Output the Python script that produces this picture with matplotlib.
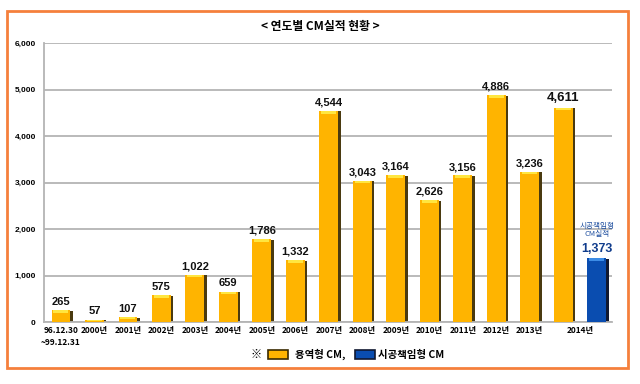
import matplotlib
matplotlib.use("Agg")
import matplotlib.pyplot as plt
from matplotlib.patches import Rectangle
from matplotlib import font_manager
import numpy as np

plt.rcParams['font.family'] = ['Noto Sans CJK KR', 'DejaVu Sans']

names = {f.name for f in font_manager.fontManager.ttflist}
num_font = ['Liberation Sans Narrow'] if 'Liberation Sans Narrow' in names else ['Liberation Sans']

# data
categories = ['96.12.30\n~99.12.31', '2000년', '2001년', '2002년', '2003년', '2004년',
              '2005년', '2006년', '2007년', '2008년', '2009년', '2010년', '2011년',
              '2012년', '2013년', '2014년']
service_cm = [265, 57, 107, 575, 1022, 659, 1786, 1332, 4544, 3043, 3164, 2626,
              3156, 4886, 3236, 4611]
construction_cm = [1373]  # 2014 only

yellow = '#FFB400'
blue = '#0A4DB0'
shadow = '#4a3a10'

fig = plt.figure(figsize=(6.4, 3.84), dpi=100)
ax = fig.add_axes([0.069, 0.161, 0.887, 0.727])

x = np.arange(len(service_cm))
w = 0.56
xb = len(service_cm)  # blue bar position

# shadows
ax.bar(x + 0.08, np.array(service_cm) - 15, width=w, color=shadow, zorder=2)
ax.bar([xb + 0.08], np.array(construction_cm) - 15, width=w, color='#101830', zorder=2)
# bars
ax.bar(x, service_cm, width=w, color=yellow, zorder=3)
ax.bar([xb], construction_cm, width=w, color=blue, zorder=3)
# top highlights
ax.bar(x, [min(60, v * 0.4) for v in service_cm], bottom=[v - min(60, v * 0.4) for v in service_cm],
       width=w * 0.8, color='#FFE640', zorder=4)
ax.bar([xb], [60], bottom=[construction_cm[0] - 60], width=w * 0.8, color='#3C8CE6', zorder=4)

for xi, v in zip(x, service_cm):
    fs = 9.5 if xi == len(service_cm) - 1 else 8
    ax.text(xi, v + 70, f'{v:,}', ha='center', va='bottom', fontsize=fs,
            fontweight='bold', color='#111111', family=num_font)
ax.text(xb, construction_cm[0] + 70, f'{construction_cm[0]:,}', ha='center', va='bottom',
        fontsize=9, fontweight='bold', color='#103C8C', family=num_font)
ax.text(xb, construction_cm[0] + 430, '시공책임형\nCM실적', ha='center', va='bottom',
        fontsize=5.5, color='#2050A0', linespacing=1.1)

ax.set_ylim(0, 6000)
ax.set_xlim(-0.5, 16.45)
ax.set_yticks(range(0, 6001, 1000))
ax.set_yticklabels([f'{t:,}' for t in range(0, 6001, 1000)], fontsize=6,
                   fontweight='bold', family=num_font)
ax.tick_params(axis='y', length=0, pad=6)
ax.grid(axis='y', color='#b4b4b4', lw=1.3, zorder=1)
ax.set_axisbelow(True)

tick_pos = list(x[:-1]) + [len(service_cm) - 0.5]
ax.set_xticks(tick_pos)
ax.set_xticklabels(categories, fontsize=6, fontweight='bold', linespacing=1.4)
ax.tick_params(axis='x', length=0, pad=3)

for s in ['top', 'right']:
    ax.spines[s].set_visible(False)
ax.spines['left'].set_color('#b4b4b4')
ax.spines['left'].set_linewidth(1.3)
ax.spines['bottom'].set_color('#b4b4b4')
ax.spines['bottom'].set_linewidth(1.3)

# title
fig.text(0.5, 0.932, '< 연도별 CM실적 현황 >', ha='center', va='center',
         fontsize=8.5, fontweight='bold')

# outer frame
fig.patches.append(Rectangle((0.011, 0.042), 0.970, 0.930, transform=fig.transFigure,
                             fill=False, edgecolor='#F5803C', lw=2))

# legend
ly = 0.076
fig.text(0.40, ly, '※', ha='center', va='center', fontsize=8, fontweight='bold')
fig.patches.append(Rectangle((0.419, ly - 0.012), 0.031, 0.024, transform=fig.transFigure,
                             facecolor=yellow, edgecolor='#3a2a00', lw=1.2))
fig.text(0.461, ly, '용역형 CM,', ha='left', va='center', fontsize=7.5, fontweight='bold')
fig.patches.append(Rectangle((0.555, ly - 0.012), 0.031, 0.024, transform=fig.transFigure,
                             facecolor=blue, edgecolor='#101830', lw=1.2))
fig.text(0.59, ly, '시공책임형 CM', ha='left', va='center', fontsize=7.5, fontweight='bold')

fig.savefig('out.png', dpi=100)
